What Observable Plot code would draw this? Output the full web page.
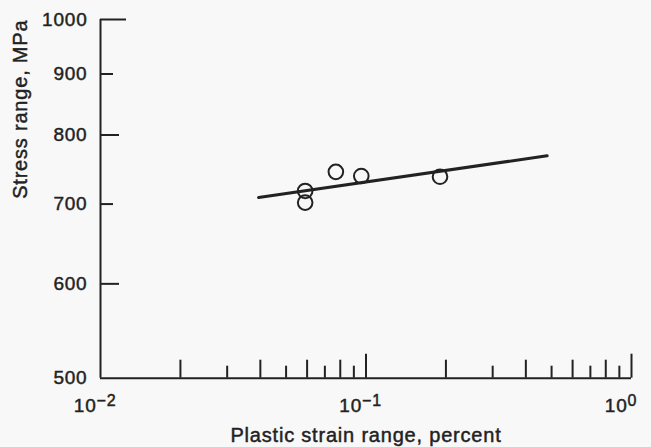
<!DOCTYPE html>
<html>
<head>
<meta charset="utf-8">
<script src="https://cdn.jsdelivr.net/npm/d3@7"></script>
<script src="https://cdn.jsdelivr.net/npm/@observablehq/plot@0.6"></script>
<style>
  html, body { margin: 0; padding: 0; background: #f8f8f8; }
  #chart { width: 651px; height: 447px; }
  #chart svg text { stroke: #222; stroke-width: 0.45px; }
</style>
</head>
<body>
<div id="chart"></div>
<script>
// ---- data ----
const pointStrain = [0.059, 0.059, 0.077, 0.096, 0.19];   // plastic strain range, percent
const pointStress = [718, 702, 745, 739, 738];             // stress range, MPa
const fitStrain = [0.0394, 0.481];                         // fitted line ends
const fitStress = [709, 768.5];

const yTicks = [600, 700, 800, 900, 1000];
const yTickLabels = [500, 600, 700, 800, 900, 1000];
const xMinorTicks = [0.02, 0.03, 0.04, 0.05, 0.06, 0.07, 0.08, 0.09,
                     0.2, 0.3, 0.4, 0.5, 0.6, 0.7, 0.8, 0.9];
const xMajorTicks = [0.1, 1];
const xLabelTicks = [0.01, 0.1, 1];
const xExponents = ["\u22122", "\u22121", "0"];
const xLabel = "Plastic strain range, percent";
const yLabel = "Stress range, MPa";

// ---- layout ----
const W = 651, H = 447;
const mL = 100, mR = 20, mT = 19, mB = 69.3;
const plotW = W - mL - mR, plotH = H - mT - mB;
const ink = "#222";

const points = pointStrain.map((x, i) => ({x, y: pointStress[i]}));
const fit = fitStrain.map((x, i) => ({x, y: fitStress[i]}));

// tick length classes (styling only)
const yLen = v => v === 1000 ? 26 : ((v / 100) % 2 === 0 ? 19 : 13);
const xLen = v => {
  if (xMajorTicks.includes(v)) return 24;
  const m = Math.round(v / Math.pow(10, Math.floor(Math.log10(v) + 1e-9)));
  return m % 2 === 0 ? 18 : 12;
};

const yTickMarks = [26, 19, 13].map(len =>
  Plot.tickY(yTicks.filter(v => yLen(v) === len), {
    y: d => d, insetRight: plotW - len, stroke: ink, strokeWidth: 2
  }));
const xTickMarks = [24, 18, 12].map(len =>
  Plot.tickX(xMinorTicks.concat(xMajorTicks).filter(v => xLen(v) === len), {
    x: d => d, insetTop: plotH - len, stroke: ink, strokeWidth: 2
  }));

const chart = Plot.plot({
  width: W, height: H,
  marginLeft: mL, marginRight: mR, marginTop: mT, marginBottom: mB,
  style: {
    background: "#f8f8f8",
    fontFamily: "'Liberation Sans', Arial, Helvetica, sans-serif",
    fontSize: "20px",
    color: ink,
    letterSpacing: "0.8px"
  },
  x: {type: "log", domain: [0.01, 1]},
  y: {type: "log", domain: [500, 1000]},
  marks: [
    Plot.ruleX([0.01], {stroke: ink, strokeWidth: 2}),
    Plot.ruleY([500], {stroke: ink, strokeWidth: 2}),
    ...yTickMarks,
    ...xTickMarks,
    Plot.axisY(yTickLabels, {
      tickSize: 0, tickPadding: 13, tickFormat: d => String(d),
      fontSize: 19, label: null
    }),
    Plot.axisX(xLabelTicks, {
      tickSize: 0, tickPadding: 20.5, tickFormat: () => "10",
      textAnchor: "end", dx: -4, fontSize: 19, label: null
    }),
    Plot.text(xLabelTicks, {
      x: d => d, text: (d, i) => xExponents[i], frameAnchor: "bottom",
      textAnchor: "start", lineAnchor: "bottom", dx: -4, dy: 27.5, fontSize: 16
    }),
    Plot.text([xLabel], {
      text: d => d, frameAnchor: "bottom", lineAnchor: "bottom",
      dy: 63.3, fontSize: 20
    }),
    Plot.text([yLabel], {
      text: d => d, frameAnchor: "left", rotate: -90, lineAnchor: "bottom",
      dx: -74, fontSize: 20
    }),
    Plot.line(fit, {x: "x", y: "y", stroke: ink, strokeWidth: 3}),
    Plot.dot(points, {x: "x", y: "y", r: 7.3, stroke: ink, strokeWidth: 2, fill: "none"})
  ]
});
document.getElementById("chart").appendChild(chart);
</script>
</body>
</html>
